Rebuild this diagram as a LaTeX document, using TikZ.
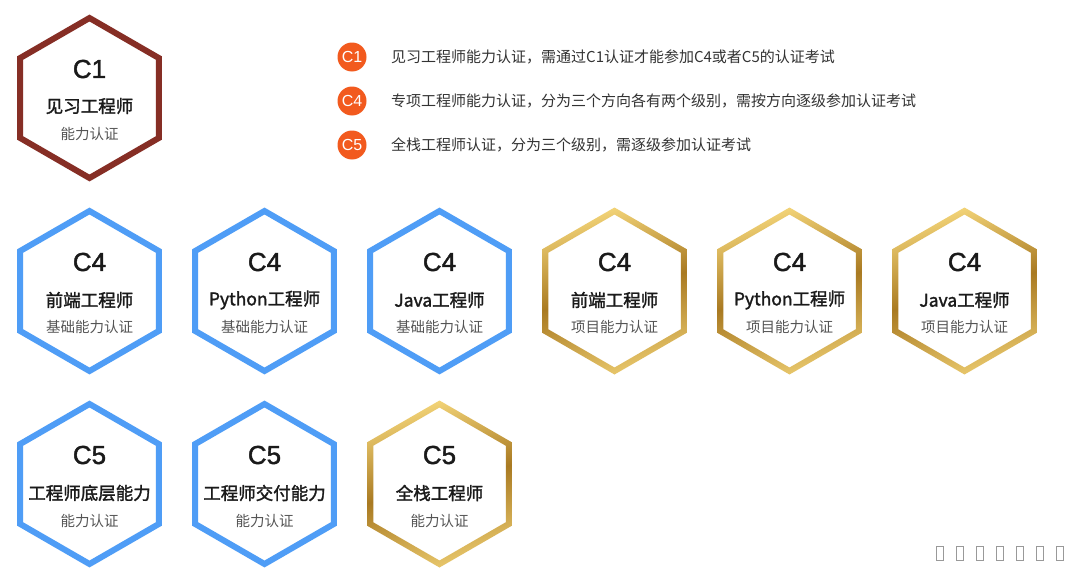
\documentclass[tikz,border=0pt]{standalone}
\usepackage{fontspec}
\setmainfont{Noto Sans CJK SC}
\newfontfamily\cjkmed[FakeBold=1.7]{Noto Sans CJK SC}
\newfontfamily\latmed[FakeBold=1.6]{Liberation Sans}
\usetikzlibrary{calc}
\definecolor{cred}{HTML}{862E25}
\definecolor{cblue}{HTML}{4F9DF6}
\definecolor{corange}{HTML}{F25A1E}
\definecolor{gdark}{HTML}{A97A22}
\definecolor{glight}{HTML}{F2D377}
\definecolor{tdark}{HTML}{1A1A1A}
\definecolor{tgray}{HTML}{555555}
\definecolor{tlegend}{HTML}{333333}
\tikzset{
  hexline/.style={line width=6pt, line join=miter},
  goldshade/.style={even odd rule, top color=glight, bottom color=glight!85!gdark, middle color=gdark, shading angle=15},
  clabel/.style={font=\latmed\fontsize{26}{26}\selectfont, text=tdark, inner sep=0pt},
  hname/.style={font=\cjkmed\fontsize{17.5}{17.5}\selectfont, text=tdark, inner sep=0pt},
  hsub/.style={font=\fontsize{14.5}{14.5}\selectfont, text=tgray, inner sep=0pt},
  legdot/.style={circle, fill=corange, minimum size=29pt, inner sep=0pt, text=white, font=\fontspec{Liberation Sans}\fontsize{16}{16}\selectfont},
  legtext/.style={anchor=west, inner sep=0pt, text=tlegend, font=\fontsize{15}{15}\selectfont},
  tofu/.style={draw=gray!80, line width=0.8pt}
}
\newcommand\hexsolid[3]{% cx cy color
  \draw[hexline, #3, shift={(#1,#2)}] (90:80) -- (150:80) -- (210:80) -- (270:80) -- (330:80) -- (30:80) -- cycle;}
\newcommand\hexgold[2]{% cx cy
  \shade[goldshade, shift={(#1,#2)}] (90:83.5) -- (150:83.5) -- (210:83.5) -- (270:83.5) -- (330:83.5) -- (30:83.5) -- cycle
     (90:76.5) -- (150:76.5) -- (210:76.5) -- (270:76.5) -- (330:76.5) -- (30:76.5) -- cycle;}
\begin{document}
\begin{tikzpicture}[x=1pt,y=-1pt]
\useasboundingbox (0,0) rectangle (1080,570);
\fill[white] (0,0) rectangle (1080,570);
% C1
\hexsolid{89.5}{98}{cred}
\node[clabel] (a1c) at (89.5,69) {C1};
\node[hname] (a1n) at (89.5,106) {见习工程师};
\node[hsub] (a1s) at (89.5,134) {能力认证};
% legend
\node[legdot] (l1) at (352,57) {C1};
\node[legdot] (l2) at (352,101) {C4};
\node[legdot] (l3) at (352,145) {C5};
\node[legtext] (t1) at (391,57) {见习工程师能力认证，需通过C1认证才能参加C4或者C5的认证考试};
\node[legtext] (t2) at (391,101) {专项工程师能力认证，分为三个方向各有两个级别，需按方向逐级参加认证考试};
\node[legtext] (t3) at (391,145) {全栈工程师认证，分为三个级别，需逐级参加认证考试};
% row 2
\hexsolid{89.5}{291}{cblue}
\hexsolid{264.5}{291}{cblue}
\hexsolid{439.5}{291}{cblue}
\hexgold{614.5}{291}
\hexgold{789.5}{291}
\hexgold{964.5}{291}
\foreach \nm/\x/\t/\s in {b1/89.5/前端工程师/基础能力认证, b2/264.5/Python工程师/基础能力认证, b3/439.5/Java工程师/基础能力认证, b4/614.5/前端工程师/项目能力认证, b5/789.5/Python工程师/项目能力认证, b6/964.5/Java工程师/项目能力认证}{
  \node[clabel] (\nm c) at (\x,262) {C4};
  \node[hname] (\nm n) at (\x,300) {\t};
  \node[hsub] (\nm s) at (\x,327) {\s};
}
% row 3
\hexsolid{89.5}{484}{cblue}
\hexsolid{264.5}{484}{cblue}
\hexgold{439.5}{484}
\foreach \nm/\x/\t/\s in {d1/89.5/工程师底层能力/能力认证, d2/264.5/工程师交付能力/能力认证, d3/439.5/全栈工程师/能力认证}{
  \node[clabel] (\nm c) at (\x,455) {C5};
  \node[hname] (\nm n) at (\x,493) {\t};
  \node[hsub] (\nm s) at (\x,521) {\s};
}
% missing-glyph boxes
\foreach \x in {936,956,976,996,1016,1036,1056}{
  \draw[tofu] (\x,546) rectangle ++(7.5,14);
}
\end{tikzpicture}
\end{document}
